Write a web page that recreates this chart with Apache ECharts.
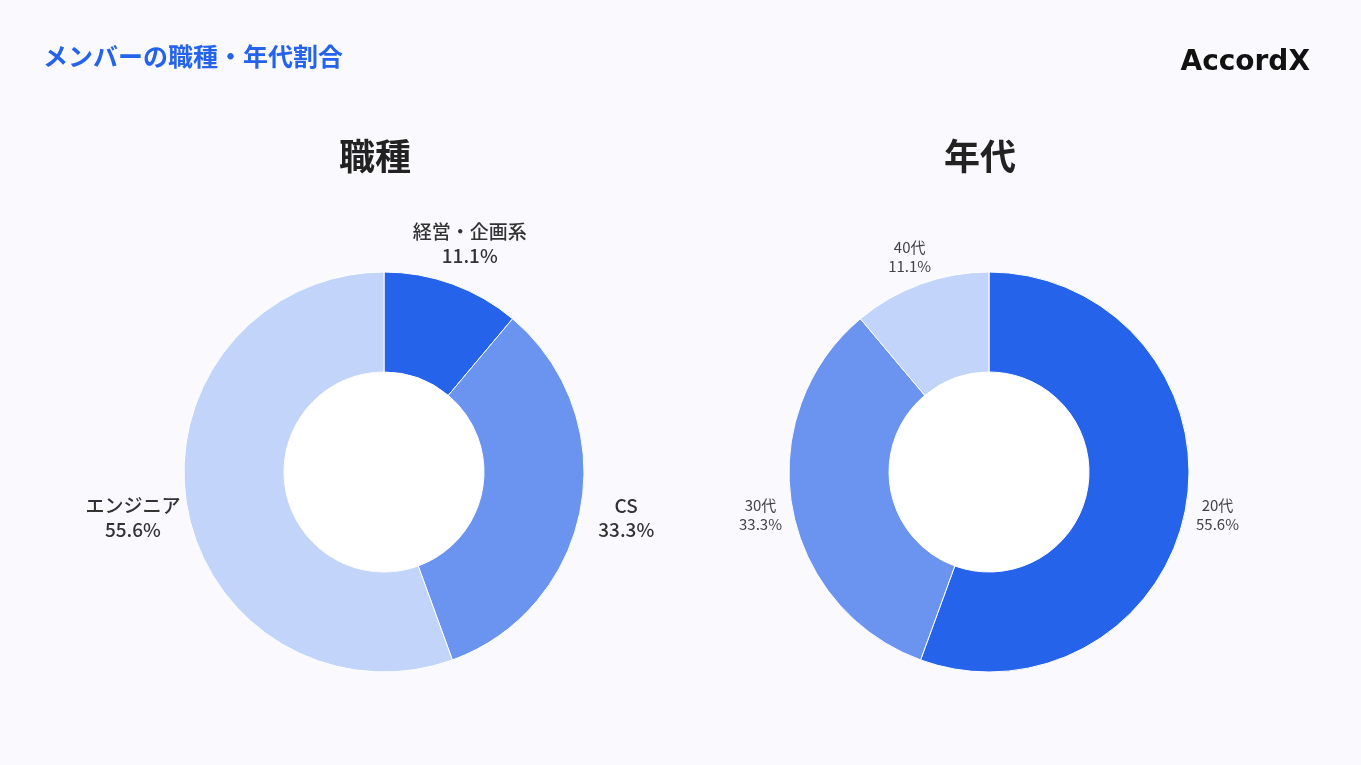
<!DOCTYPE html>
<html>
<head>
<meta charset="utf-8">
<script src="https://cdn.jsdelivr.net/npm/echarts@6/dist/echarts.min.js"></script>
<style>
  html, body { margin: 0; padding: 0; background: #fafafe; }
  #chart { width: 1361px; height: 765px; }
</style>
</head>
<body>
<div id="chart"></div>
<script>
// 職種
var jobNames = ['経営・企画系', 'CS', 'エンジニア'];
var jobValues = [1, 3, 5];
// 年代
var ageNames = ['20代', '30代', '40代'];
var ageValues = [5, 3, 1];

var jobColors = ['#2563eb', '#6b94f0', '#c2d4fa'];
var ageColors = ['#2563eb', '#6b94f0', '#c2d4fa'];

var FONT = '"Noto Sans CJK JP", "Noto Sans", sans-serif';

function toData(names, values) {
  var list = [];
  for (var i = 0; i < names.length; i++) {
    list.push({ name: names[i], value: values[i] });
  }
  return list;
}

//ラベルは中央揃え、横向きで幅の広いラベルは少し外へ
function centerLabel(params) {
  var dx = 0;
  var pts = params.labelLinePoints;
  if (pts && pts.length >= 2) {
    var vx = pts[1][0] - pts[0][0];
    var vy = pts[1][1] - pts[0][1];
    var len = Math.sqrt(vx * vx + vy * vy) || 1;
    var ux = vx / len;
    dx = ux * Math.abs(ux) * Math.max(0, params.labelRect.width - 60) * 0.26;
  }
  return { align: 'center', dx: dx, dy: 3 };
}

// ドーナツ1つ分
function donut(center, names, values, colors, label, len) {
  return {
    type: 'pie',
    center: center,
    radius: [100, 200],
    startAngle: 90,
    percentPrecision: 1,
    avoidLabelOverlap: false,
    color: colors,
    itemStyle: { borderColor: '#ffffff', borderWidth: 1 },
    label: label,
    labelLine: { show: true, length: len, length2: 0, lineStyle: { width: 0, opacity: 0 } },
    labelLayout: centerLabel,
    emphasis: { disabled: true },
    data: toData(names, values)
  };
}

// 真ん中の白い穴
function hole(center) {
  return {
    type: 'pie',
    center: center,
    radius: [0, 100],
    silent: true,
    label: { show: false },
    labelLine: { show: false },
    itemStyle: { color: '#ffffff' },
    data: [{ value: 1, name: '' }]
  };
}

var chart = echarts.init(document.getElementById('chart'));

var option = {
  backgroundColor: '#fafafe',
  animation: false,
  title: [
    {
      text: 'メンバーの職種・年代割合',
      left: 38, top: 39,
      textStyle: { color: '#2563eb', fontSize: 25, fontWeight: 'bold', fontFamily: FONT }
    },
    {
      text: '職種',
      left: 370, top: 133, textAlign: 'center',
      textStyle: { color: '#222222', fontSize: 36, fontWeight: 'bold', fontFamily: FONT }
    },
    {
      text: '年代',
      left: 975, top: 133, textAlign: 'center',
      textStyle: { color: '#222222', fontSize: 36, fontWeight: 'bold', fontFamily: FONT }
    },
    {
      text: 'AccordX',
      right: 46, top: 44,
      textStyle: { color: '#111111', fontSize: 28, fontWeight: 'bold', fontFamily: '"DejaVu Sans", sans-serif' }
    }
  ],
  series: [
    hole([384, 472]),
    hole([989, 472]),
    donut([384, 472], jobNames, jobValues, jobColors, {
      position: 'outside',
      distanceToLabelLine: 0,
      formatter: '{b}\n{d}%',
      color: '#333333',
      fontSize: 19,
      fontWeight: 500,
      lineHeight: 24,
      fontFamily: FONT
    }, 46),
    donut([989, 472], ageNames, ageValues, ageColors, {
      position: 'outside',
      distanceToLabelLine: 0,
      formatter: '{b}\n{d}%',
      color: '#444444',
      fontSize: 15,
      lineHeight: 19,
      fontFamily: FONT
    }, 32)
  ]
};

chart.setOption(option);
</script>
</body>
</html>
